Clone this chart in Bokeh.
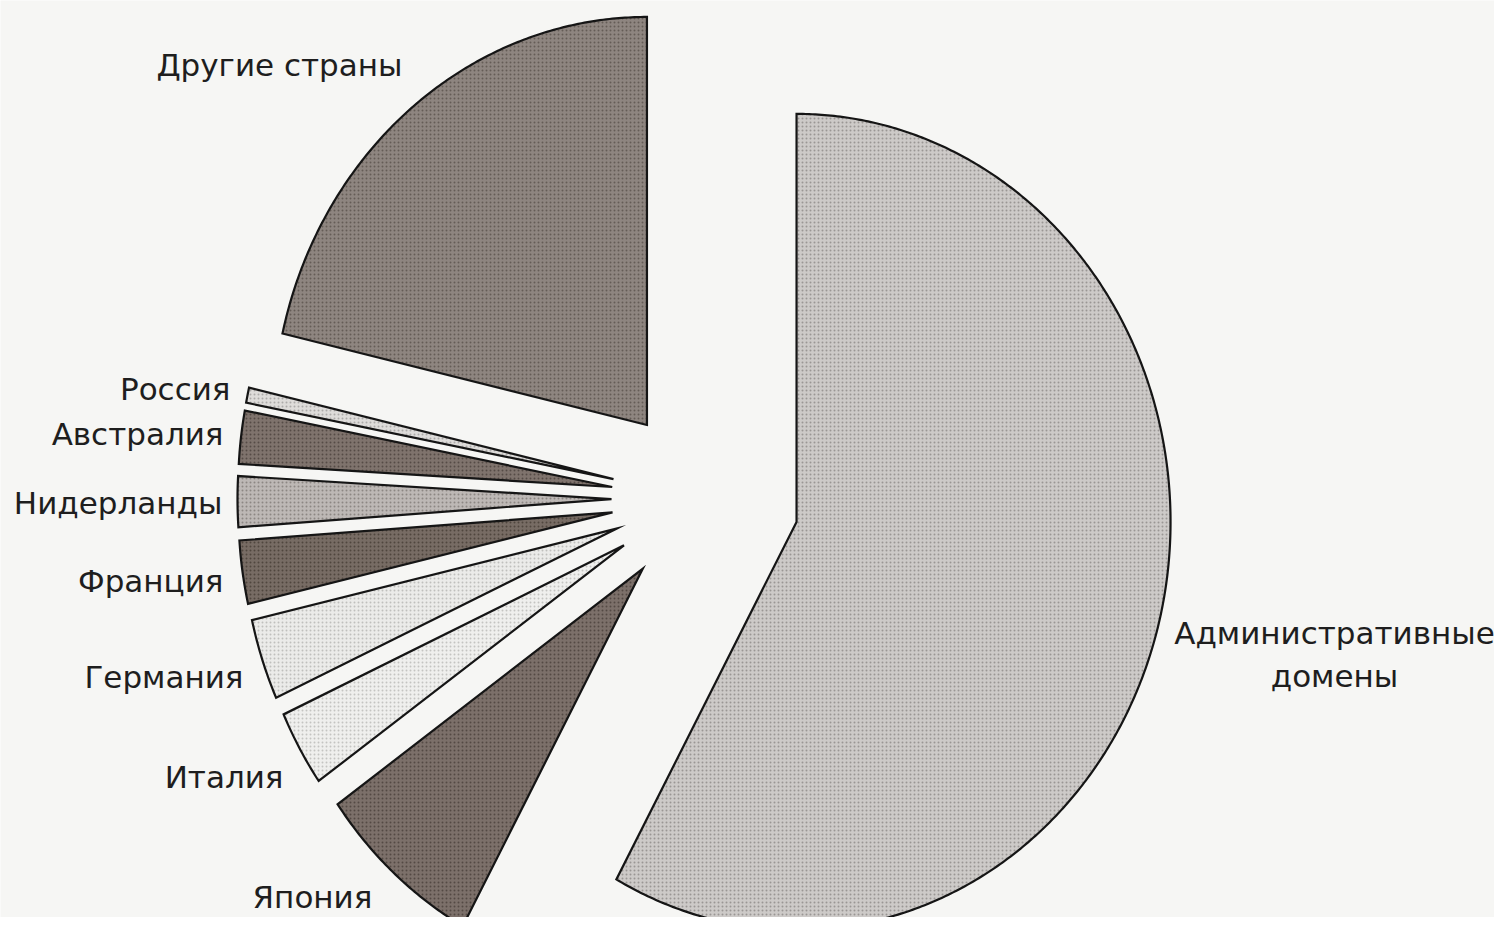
import numpy as np
from bokeh.plotting import figure
from bokeh.models import Range1d, ColumnDataSource
from bokeh.core.properties import value
from bokeh.embed import file_html
from bokeh.resources import INLINE

# ---- data (shares, %), clockwise from 12 o'clock ----
categories = ["Административные домены", "Япония", "Италия", "Германия",
              "Франция", "Нидерланды", "Австралия", "Россия", "Другие страны"]
shares = [58.0, 7.2, 3.0, 3.2, 2.5, 2.0, 2.1, 0.6, 21.4]

# ---- style ----
colors = ["#cdcac8", "#7c706a", "#efefed", "#ebebe9", "#776c64",
          "#bdb8b5", "#7f736d", "#dedcda", "#8e8580"]
dot_colors = ["#8d8987", "#4a403b", "#b9b9b7", "#b4b4b2", "#463c35",
              "#7f7a77", "#4b413c", "#a09e9c", "#5a514c"]

W, H = 1494, 917
p = figure(width=W, height=H, x_range=Range1d(0, W), y_range=Range1d(H, 0),
           output_backend="svg", toolbar_location=None, min_border=0)
p.axis.visible = False
p.grid.visible = False
p.outline_line_color = None
p.background_fill_color = "#f6f6f4"
p.border_fill_color = "#f6f6f4"

# pie geometry (screen-like coordinates, y downward)
cx, cy = 705.0, 498.0
rx, ry = 374.0, 408.0
explode = 94.0

vals = np.array(shares, dtype=float)
ends = np.cumsum(vals) / vals.sum() * 2 * np.pi
starts = np.concatenate([[0.0], ends[:-1]])
xs, ys = [], []
for a0, a1 in zip(starts, ends):
    m = 0.5 * (a0 + a1)
    ax = cx + explode * np.sin(m)
    ay = cy - explode * np.cos(m)
    t = np.linspace(a0, a1, max(8, int((a1 - a0) * 120)))
    px = np.concatenate([[ax], ax + rx * np.sin(t)])
    py = np.concatenate([[ay], ay - ry * np.cos(t)])
    xs.append(list(px))
    ys.append(list(py))

src = ColumnDataSource(dict(xs=xs, ys=ys, color=colors, dots=dot_colors, name=categories))
p.patches("xs", "ys", source=src, fill_color="color", line_color="#151515",
          line_width=2.2, line_join="miter", hatch_pattern="dot",
          hatch_color="dots", hatch_scale=4, hatch_weight=1.6, hatch_alpha=0.8)

# ---- labels ----
font = value("DejaVu Sans")
lab_text = ["Другие страны", "Россия", "Австралия", "Нидерланды", "Франция",
            "Германия", "Италия"]
lab_x = [402, 230, 223, 222, 223, 243, 283]
lab_y = [64, 388, 433, 502, 580, 676, 776]
p.text(x=lab_x, y=lab_y, text=lab_text, text_font=font, text_font_size="31px",
       text_align="right", text_baseline="alphabetic", text_color="#1e1e1e")
p.text(x=[312, 1334, 1334], y=[896, 632, 675],
       text=["Япония", "Административные", "домены"], text_font=font,
       text_font_size="31px", text_align="center", text_baseline="alphabetic",
       text_color="#1e1e1e")

open("out.html", "w").write(file_html(p, INLINE))
